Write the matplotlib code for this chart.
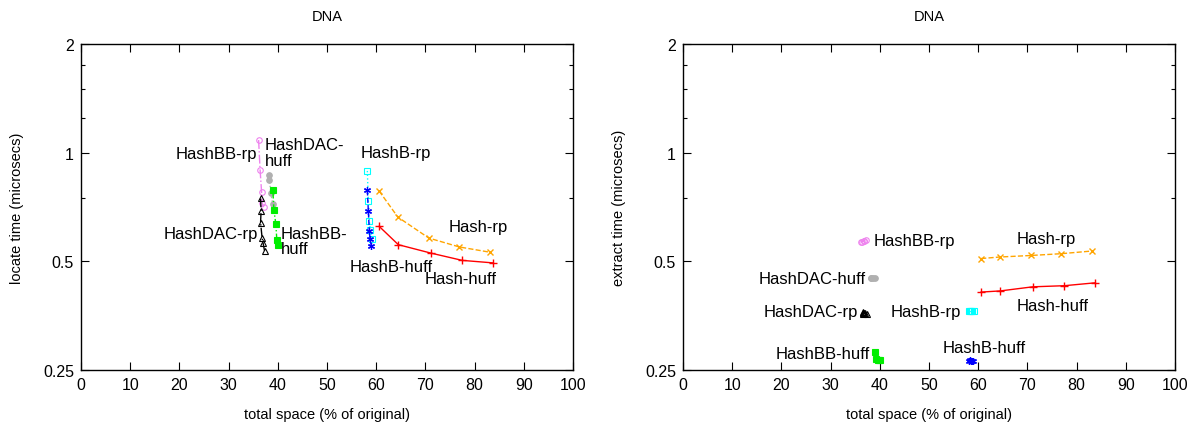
import matplotlib
matplotlib.use("Agg")
import matplotlib.pyplot as plt
from matplotlib.ticker import FixedLocator, NullFormatter

plt.rcParams['font.family'] = ['Liberation Sans', 'DejaVu Sans']

# ---- data: locate (left) ----
bbrp_x = [36.1, 36.4, 36.7, 36.8, 37.1]
bbrp_locate = [1.084, 0.896, 0.78, 0.727, 0.706]
dacrp_x = [36.5, 36.6, 36.5, 36.8, 37.0, 37.3]
dacrp_locate = [0.747, 0.69, 0.64, 0.582, 0.563, 0.535]
dachuff_x = [38.15, 38.3, 38.6, 38.96]
dachuff_locate = [0.868, 0.84, 0.771, 0.721]
bbhuff_x = [39.0, 39.2, 39.6, 39.8, 40.0]
bbhuff_locate = [0.79, 0.694, 0.635, 0.573, 0.555]
brp_x = [58.2, 58.4, 58.6, 58.8, 59.2]
brp_locate = [0.89, 0.733, 0.648, 0.609, 0.578]
bhuff_x = [58.2, 58.4, 58.6, 58.75, 59.0]
bhuff_locate = [0.786, 0.689, 0.608, 0.578, 0.551]
hrp_x = [60.6, 64.4, 70.7, 76.9, 83.1]
hrp_locate = [0.783, 0.663, 0.58, 0.548, 0.53]
hhuff_x = [60.6, 64.5, 71.1, 77.5, 83.8]
hhuff_locate = [0.625, 0.556, 0.527, 0.503, 0.495]

# ---- data: extract (right) ----
bbrp_extract = [0.565, 0.567, 0.569, 0.571, 0.574]
dacrp_extract = [0.358, 0.360, 0.361, 0.360, 0.359, 0.358]
dachuff_extract = [0.449, 0.450, 0.450, 0.449]
bbhuff_extract = [0.281, 0.268, 0.266, 0.267, 0.266]
brp_extract = [0.364, 0.364, 0.364, 0.364, 0.364]
bhuff_extract = [0.265, 0.266, 0.265, 0.265, 0.264]
hrp_extract = [0.509, 0.514, 0.519, 0.525, 0.534]
hhuff_extract = [0.411, 0.414, 0.425, 0.428, 0.436]

y_ticks = [0.25, 0.5, 1, 2]
y_ticklabels = ["0.25", "0.5", "1", "2"]
y_minor = [0.75, 1.25, 1.5, 1.75]
x_ticks = list(range(0, 101, 10))

styles = {
    'bbrp': dict(color='violet', ls='-.', marker='o', mfc='none', ms=4, mew=0.8),
    'dacrp': dict(color='black', ls='-.', marker='^', mfc='none', ms=4, mew=0.8),
    'dachuff': dict(color='#b0b0b0', ls=':', marker='o', mfc='#b0b0b0', ms=4, mew=0.8),
    'bbhuff': dict(color='#00ee00', ls='-.', marker='s', mfc='#00ee00', ms=4.5, mew=0.8),
    'brp': dict(color='cyan', ls=':', marker='s', mfc='none', ms=4.5, mew=0.8),
    'bhuff': dict(color='blue', ls='--', marker=(6, 2, 0), ms=5, mew=0.9),
    'hrp': dict(color='orange', ls='--', marker='x', ms=5, mew=1.0),
    'hhuff': dict(color='red', ls='-', marker='+', ms=6, mew=1.0),
}

fig = plt.figure(figsize=(12.01, 4.27), dpi=100)
axL = fig.add_axes([81/1201, 1-371/427, 492/1201, 326/427])
axR = fig.add_axes([683/1201, 1-371/427, 492/1201, 326/427])


def setup(ax, ylabel):
    ax.set_yscale('log', base=2)
    ax.set_xlim(0, 100)
    ax.set_ylim(0.25, 2)
    ax.xaxis.set_major_locator(FixedLocator(x_ticks))
    ax.set_xticklabels([str(v) for v in x_ticks])
    ax.yaxis.set_major_locator(FixedLocator(y_ticks))
    ax.yaxis.set_minor_locator(FixedLocator(y_minor))
    ax.yaxis.set_minor_formatter(NullFormatter())
    ax.set_yticklabels(y_ticklabels)
    ax.tick_params(which='both', direction='in', top=True, right=True,
                   labelsize=11.5, width=0.8)
    ax.tick_params(which='major', length=6, pad=5)
    ax.tick_params(which='minor', length=3)
    for s in ax.spines.values():
        s.set_linewidth(1.0)
    ax.set_xlabel('total space (% of original)', fontsize=10.5, labelpad=11)
    ax.set_ylabel(ylabel, fontsize=10.5, labelpad=14)
    ax.set_title('DNA', fontsize=10.5, pad=17)


def draw(ax, ys):
    xs = {'bbrp': bbrp_x, 'dacrp': dacrp_x, 'dachuff': dachuff_x,
          'bbhuff': bbhuff_x, 'brp': brp_x, 'bhuff': bhuff_x,
          'hrp': hrp_x, 'hhuff': hhuff_x}
    for k in ['bbrp', 'dacrp', 'dachuff', 'bbhuff', 'brp', 'bhuff', 'hrp', 'hhuff']:
        ax.plot(xs[k], ys[k], lw=1.0, **styles[k])


setup(axL, 'locate time (microsecs)')
draw(axL, {'bbrp': bbrp_locate, 'dacrp': dacrp_locate, 'dachuff': dachuff_locate,
           'bbhuff': bbhuff_locate, 'brp': brp_locate, 'bhuff': bhuff_locate,
           'hrp': hrp_locate, 'hhuff': hhuff_locate})
fs = 12
axL.text(35.8, 0.994, 'HashBB-rp', ha='right', va='center', fontsize=fs)
axL.text(37.4, 1.0, 'HashDAC-\nhuff', ha='left', va='center', fontsize=fs, linespacing=1.05)
axL.text(36.0, 0.596, 'HashDAC-rp', ha='right', va='center', fontsize=fs)
axL.text(40.65, 0.569, 'HashBB-\nhuff', ha='left', va='center', fontsize=fs, linespacing=1.05)
axL.text(56.9, 1.0, 'HashB-rp', ha='left', va='center', fontsize=fs)
axL.text(74.8, 0.624, 'Hash-rp', ha='left', va='center', fontsize=fs)
axL.text(54.7, 0.483, 'HashB-huff', ha='left', va='center', fontsize=fs)
axL.text(69.9, 0.448, 'Hash-huff', ha='left', va='center', fontsize=fs)

setup(axR, 'extract time (microsecs)')
draw(axR, {'bbrp': bbrp_extract, 'dacrp': dacrp_extract, 'dachuff': dachuff_extract,
           'bbhuff': bbhuff_extract, 'brp': brp_extract, 'bhuff': bhuff_extract,
           'hrp': hrp_extract, 'hhuff': hhuff_extract})
axR.text(38.8, 0.570, 'HashBB-rp', ha='left', va='center', fontsize=fs)
axR.text(37.2, 0.448, 'HashDAC-huff', ha='right', va='center', fontsize=fs)
axR.text(35.6, 0.363, 'HashDAC-rp', ha='right', va='center', fontsize=fs)
axR.text(56.5, 0.363, 'HashB-rp', ha='right', va='center', fontsize=fs)
axR.text(38.0, 0.278, 'HashBB-huff', ha='right', va='center', fontsize=fs)
axR.text(52.8, 0.288, 'HashB-huff', ha='left', va='center', fontsize=fs)
axR.text(67.9, 0.578, 'Hash-rp', ha='left', va='center', fontsize=fs)
axR.text(67.9, 0.377, 'Hash-huff', ha='left', va='center', fontsize=fs)

fig.savefig('out.png', dpi=100)
